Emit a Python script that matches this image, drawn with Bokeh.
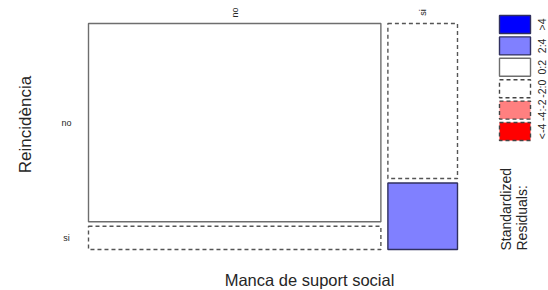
import numpy as np
from bokeh.plotting import figure
from bokeh.models import Range1d
from bokeh.core.properties import value
from bokeh.embed import file_html
from bokeh.resources import INLINE

# ---- data ----
support_levels = ["no", "si"]      # Manca de suport social (columns)
reinc_levels = ["no", "si"]        # Reincidència (rows)
counts_no = [188, 22]              # support = no : reinc no, si
counts_si = [35, 15]               # support = si : reinc no, si
legend_labels = [">4", "2:4", "0:2", "-2:0", "-4:-2", "<-4"]
legend_fills = ["#0000FF", "#8080FF", "#FFFFFF", "#FFFFFF", "#FF8080", "#FF0000"]
legend_dash = ["solid", "solid", "solid", "dashed", "dashed", "dashed"]

FONT = value("Liberation Sans")
TXT = "#262626"

counts = np.array([counts_no, counts_si], dtype=float)
N = counts.sum()
col_tot = counts.sum(axis=1)
row_tot = counts.sum(axis=0)
expected = np.outer(col_tot, row_tot) / N
resid = (counts - expected) / np.sqrt(expected)

def shade(r):
    if r > 4:
        return "#0000FF", "solid", "#303060"
    if r > 2:
        return "#8080FF", "solid", "#303060"
    if r >= 0:
        return "#FFFFFF", "solid", "#6e6e6e"
    if r >= -2:
        return "#FFFFFF", "dashed", "#555555"
    if r >= -4:
        return "#FF8080", "dashed", "#555555"
    return "#FF0000", "dashed", "#555555"

W, H = 548, 290
p = figure(width=W, height=H, output_backend="svg", toolbar_location=None,
           x_range=Range1d(0, W), y_range=Range1d(H, 0),
           min_border=0, outline_line_color=None)
p.xaxis.visible = False
p.yaxis.visible = False
p.xgrid.visible = False
p.ygrid.visible = False
p.background_fill_color = "white"
p.border_fill_color = "white"

# mosaic area
L, R, T, B = 88.0, 457.0, 23.0, 249.0
gx, gy = 7.0, 4.5
avail_w = (R - L) - gx * (len(support_levels) - 1)
x0 = L
col_centers = []
row_centers_first = []
for i, s in enumerate(support_levels):
    w = avail_w * col_tot[i] / N
    col_centers.append(x0 + w / 2)
    avail_h = (B - T) - gy * (len(reinc_levels) - 1)
    y0 = T
    for j, rl in enumerate(reinc_levels):
        h = avail_h * counts[i, j] / col_tot[i]
        fill, dash, lc = shade(resid[i, j])
        p.quad(left=[x0], right=[x0 + w], top=[y0], bottom=[y0 + h],
               fill_color=fill, line_color=lc, line_width=1.4,
               line_dash=dash if dash == "solid" else "4 3")
        if i == 0:
            row_centers_first.append(y0 + h / 2)
        y0 += h + gy
    x0 += w + gx

# column labels (rotated)
p.text(x=col_centers, y=[12] * len(col_centers), text=support_levels,
       angle=np.pi / 2, text_align="center", text_baseline="middle",
       text_font=FONT, text_font_size="9px", text_color=TXT)
# row labels
p.text(x=[66] * len(reinc_levels), y=row_centers_first, text=reinc_levels,
       text_align="center", text_baseline="middle",
       text_font=FONT, text_font_size="9px", text_color=TXT)

# axis titles
p.text(x=[309], y=[279], text=["Manca de suport social"], text_align="center",
       text_baseline="middle", text_font=FONT, text_font_size="16.5px", text_color=TXT)
p.text(x=[25], y=[124], text=["Reincidència"], angle=np.pi / 2, text_align="center",
       text_baseline="middle", text_font=FONT, text_font_size="17px", text_color=TXT)

# legend
lx0, lx1 = 499.0, 530.0
ly0, pitch, bh = 15.0, 21.4, 18.0
centers = []
for k, (lab, fc, ds) in enumerate(zip(legend_labels, legend_fills, legend_dash)):
    top = ly0 + k * pitch
    lc = "#6e6e6e" if fc == "#FFFFFF" and ds == "solid" else ("#303060" if ds == "solid" else "#444444")
    p.quad(left=[lx0], right=[lx1], top=[top], bottom=[top + bh], fill_color=fc,
           line_color=lc, line_width=1.4, line_dash="solid" if ds == "solid" else "4 3")
    centers.append(top + bh / 2)
p.text(x=[541] * len(legend_labels), y=centers, text=legend_labels, angle=np.pi / 2,
       text_align="center", text_baseline="middle", text_font=FONT,
       text_font_size="10.5px", text_color=TXT)
p.text(x=[505, 521], y=[250, 250], text=["Standardized", "Residuals:"], angle=np.pi / 2,
       text_align="left", text_baseline="middle", text_font=FONT,
       text_font_size="14px", text_color=TXT)

open("out.html", "w").write(file_html(p, INLINE))
